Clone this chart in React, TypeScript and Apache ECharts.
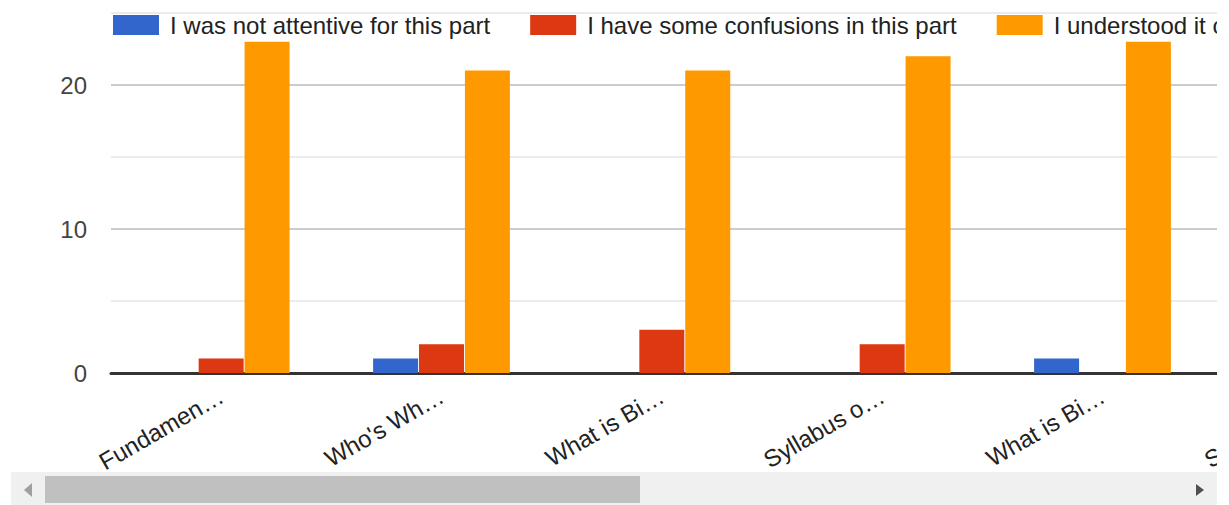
import React, { useEffect, useRef } from "react";
import * as echarts from "echarts";

const categories = ["Fundamen…", "Who's Wh…", "What is Bi…", "Syllabus o…", "What is Bi…", "Syllabus o…"];
const seriesNames = [
  "I was not attentive for this part",
  "I have some confusions in this part",
  "I understood it completely",
];
const notAttentive = [0, 1, 0, 0, 1, 0];
const someConfusion = [1, 2, 3, 2, 0, 1];
const understood = [23, 21, 21, 22, 23, 22];
const colors = ["#3366cc", "#dc3912", "#ff9900"];
const yTicks = { min: 0, max: 25, interval: 5 };

const FONT = "'Liberation Sans', Arial, sans-serif";

export default function App() {
  const ref = useRef<HTMLDivElement>(null);
  useEffect(() => {
    if (!ref.current) return;
    const chart = echarts.init(ref.current, null, { renderer: "svg" });
    const values = [notAttentive, someConfusion, understood];
    chart.setOption({
      animation: false,
      color: colors,
      textStyle: { fontFamily: FONT },
      legend: {
        left: 100,
        top: 0,
        itemWidth: 46,
        itemHeight: 20,
        itemGap: 40,
        icon: "rect",
        textStyle: { fontSize: 24, color: "#222", fontFamily: FONT, padding: [0, 0, 0, 6] },
        data: seriesNames,
      },
      grid: { left: 103, top: 5, width: 1322, height: 360, containLabel: false },
      xAxis: {
        type: "category",
        data: categories,
        axisTick: { show: false },
        axisLine: { lineStyle: { color: "#333", width: 3 } },
        axisLabel: {
          rotate: 30,
          interval: 0,
          margin: 21,
          fontSize: 24,
          color: "#222",
          fontFamily: FONT,
        },
        splitLine: { show: false },
      },
      yAxis: {
        type: "value",
        min: yTicks.min,
        max: yTicks.max,
        interval: yTicks.interval,
        axisLine: { show: false },
        axisTick: { show: false },
        axisLabel: {
          fontSize: 24,
          color: "#444",
          margin: 24,
          fontFamily: FONT,
          formatter: (v: number) => (v % 10 === 0 ? String(v) : ""),
        },
        splitLine: { lineStyle: { color: ["#cccccc", "#ebebeb"], width: 2 } },
      },
      series: seriesNames.map((name, i) => ({
        name,
        type: "bar",
        data: values[i],
        barWidth: 45,
        barGap: "2%",
        itemStyle: { color: colors[i] },
      })),
      graphic: [
        { type: "rect", shape: { x: 3, y: 464, width: 1206, height: 33 }, style: { fill: "#f0f0f0" }, z: 100 },
        { type: "rect", shape: { x: 37, y: 468, width: 595, height: 27 }, style: { fill: "#c0c0c0" }, z: 101 },
        { type: "polygon", shape: { points: [[16, 482], [24, 475], [24, 489]] }, style: { fill: "#a0a0a0" }, z: 101 },
        { type: "polygon", shape: { points: [[1188, 476], [1188, 488], [1196, 482]] }, style: { fill: "#505050" }, z: 101 },
      ],
    });
    return () => chart.dispose();
  }, []);
  return (
    <div style={{ width: 1209, height: 497, overflow: "hidden", position: "relative" }}>
      <div ref={ref} style={{ width: 1440, height: 497 }} />
    </div>
  );
}
